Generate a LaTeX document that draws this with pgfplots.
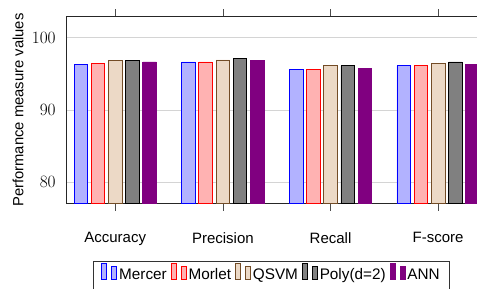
\documentclass[border=0pt]{standalone}
\usepackage{fontspec}
\setmainfont{Liberation Sans}
\usepackage{pgfplots}
\pgfplotsset{compat=1.18}
\definecolor{gridgray}{RGB}{212,212,212}
\begin{document}
\begin{tikzpicture}
\useasboundingbox (-66.7pt,-85.7pt) rectangle (410.3pt,203.3pt);
\begin{axis}[
  at={(0pt,0pt)}, anchor=south west,
  width=420pt, height=186.6pt, scale only axis,
  ybar=3.6pt, bar width=13.6pt,
  xmin=-0.451, xmax=3.451, ymin=77.1, ymax=102.9,
  xtick={0,1,2,3}, xticklabels={Accuracy,Precision,Recall,F-score},
  xtick pos=both, xticklabel pos=lower,
  tick align=outside, major tick length=7.5pt,
  ytick={80,90,100}, ytick style={draw=none},
  ymajorgrids, major grid style={gridgray, line width=0.9pt},
  axis line style={line width=0.8pt, black!85},
  xtick style={line width=0.6pt, black!70},
  ylabel={Performance measure values},
  ylabel style={at={(axis description cs:-0.116,0.5)}, anchor=center, font=\fontsize{14.8}{17}\selectfont},
  xticklabel style={font=\fontsize{15}{18}\selectfont, yshift=-18pt},
  yticklabel style={font=\fontsize{16}{18}\selectfont},
  legend style={at={(axis description cs:0.0626,-0.309)}, anchor=north west,
    legend columns=-1, font=\fontsize{15.3}{18}\selectfont, draw=black!80, line width=0.8pt,
    inner xsep=8pt, inner ysep=1.5pt,
    cells={anchor=base}, nodes={text depth=9pt},
    /tikz/every even column/.append style={column sep=2pt}},
  legend image code/.code={
    \draw[#1] (0pt,0pt) rectangle (5pt,16.5pt);
    \draw[#1] (10pt,0pt) rectangle (15pt,13.3pt);
  },
]
\addplot[draw=blue, fill=blue!30, line width=0.8pt] coordinates {(0,96.33) (1,96.65) (2,95.59) (3,96.10)};
\addplot[draw=red, fill=red!30, line width=0.8pt] coordinates {(0,96.47) (1,96.65) (2,95.60) (3,96.10)};
\addplot[draw=brown!60!black, fill=brown!30, line width=0.8pt] coordinates {(0,96.79) (1,96.92) (2,96.10) (3,96.47)};
\addplot[draw=black, fill=gray, line width=0.8pt] coordinates {(0,96.80) (1,97.10) (2,96.10) (3,96.65)};
\addplot[draw=violet, fill=violet, line width=0.8pt] coordinates {(0,96.65) (1,96.90) (2,95.78) (3,96.28)};
\legend{Mercer,Morlet,QSVM,Poly(d=2),ANN}
\end{axis}
\end{tikzpicture}
\end{document}
